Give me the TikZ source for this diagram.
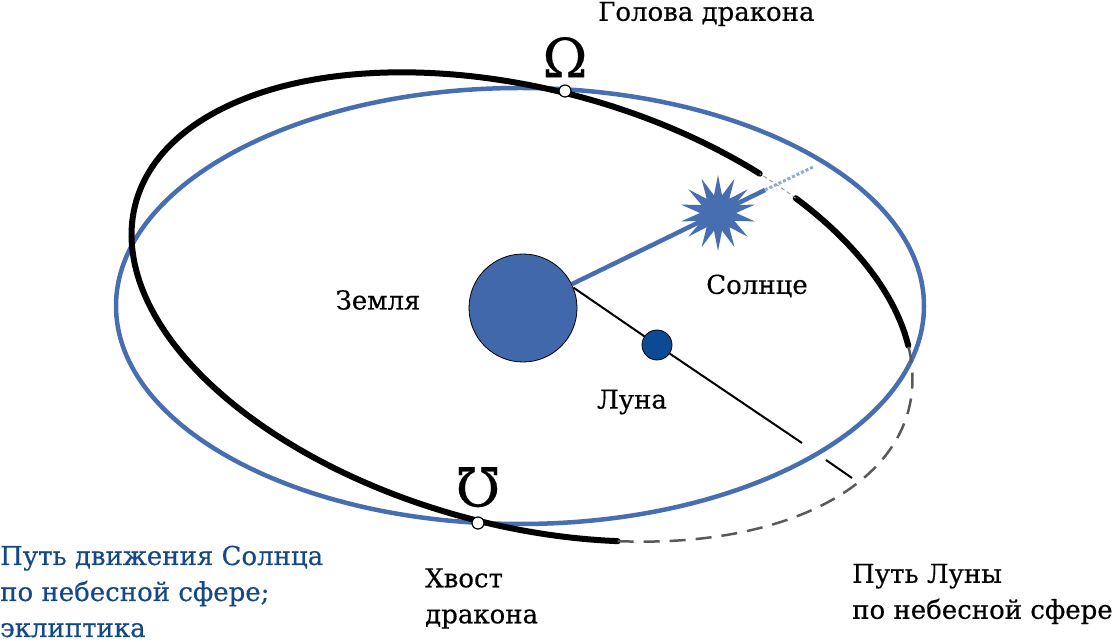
\documentclass[tikz,border=0pt]{standalone}
\usepackage{fontspec}
\setmainfont{DejaVu Serif}[UprightFeatures={FakeBold=0.4}]
\usepackage{graphicx}
\usetikzlibrary{shapes.geometric, positioning}
\definecolor{eclblue}{RGB}{72,110,178}
\definecolor{earthblue}{RGB}{66,104,172}
\definecolor{moonblue}{RGB}{12,74,150}
\definecolor{textblue}{RGB}{20,72,136}
\tikzset{
x=1pt, y=1pt, % one unit is one pixel of the sketch
every node/.style={font=\fontsize{26}{36}\selectfont, inner sep=0pt}, % all labels
body/.style={circle, draw=black, line width=0.8pt}, % earth and moon
nodemark/.style={circle, draw=black, fill=white, line width=1.2pt, minimum size=12pt}, % where the orbits cross
nodesign/.style={font=\fontsize{54}{54}\selectfont}, % the dragon signs
orbit/.style={line width=6pt, line cap=round}, % path of the moon
farorbit/.style={line width=2.5pt, black!65, dash pattern=on 16pt off 10pt}, % its hidden side
ecliptic/.style={eclblue, line width=4.5pt}, % path of the sun
}
\begin{document}
\begin{tikzpicture}
\useasboundingbox (0,0) rectangle (1119,642);
% ecliptic
\draw[ecliptic] (520,336) ellipse[x radius=404, y radius=218];
% path of the moon
\begin{scope}[shift={(522,335)}, rotate=-15]
  \draw[orbit] (60.8:400 and 218) arc[start angle=60.8, end angle=292.5, x radius=400, y radius=218];
  \draw[orbit] (16.7:400 and 218) arc[start angle=16.7, end angle=53.8, x radius=400, y radius=218];
  \draw[farorbit] (-67.5:400 and 218) arc[start angle=-67.5, end angle=16.7, x radius=400, y radius=218];
  \draw[farorbit, line width=1pt, black!40, dash pattern=on 4pt off 3pt] (53.8:400 and 218) arc[start angle=53.8, end angle=60.8, x radius=400, y radius=218];
\end{scope}
\node[body, fill=earthblue, minimum size=108pt] (earth) at (523,334) {};
\node[body, fill=moonblue, minimum size=30pt] (moon) at (657,297) {};
\node[star, star points=14, star point ratio=2.1, fill=eclblue, minimum size=76pt] (sun) at (718,429) {};
\coordinate (rayfade) at (765,452);
\coordinate (rayend) at (813,475);
\coordinate (moonend) at (802,199);
\coordinate (farstart) at (826,182);
\coordinate (farend) at (852,164);
\draw[ecliptic] (earth.26) -- (sun) -- (rayfade);
\draw[eclblue!60, line width=3pt, dash pattern=on 3pt off 2pt] (rayfade) -- (rayend);
\draw[line width=2pt] (earth.22) -- (moon) -- (moonend) (farstart) -- (farend);
% the two nodes
\node[nodemark] (asc) at (565,551) {};
\node[nodemark] (desc) at (478,119) {};
\node[nodesign, above=7pt of asc] (ascsign) {Ω};
\node[nodesign, above=9pt of desc] (descsign) {\rotatebox{180}{Ω}};
% labels
\node[anchor=west] (head) at (598,628) {Голова дракона};
\node (zemlya) at (378,342) {Земля};
\node (solnce) at (757,356) {Солнце};
\node (luna) at (632,240) {Луна};
\node[anchor=west, align=left] (tail) at (425,43.5) {Хвост\\дракона};
\node[anchor=west, align=left] (moonpath) at (852,48) {Путь Луны\\по небесной сфере};
\node[anchor=west, align=left, text=textblue] (sunpath) at (0,50.5) {Путь движения Солнца\\по небесной сфере;\\эклиптика};
\end{tikzpicture}
\end{document}
